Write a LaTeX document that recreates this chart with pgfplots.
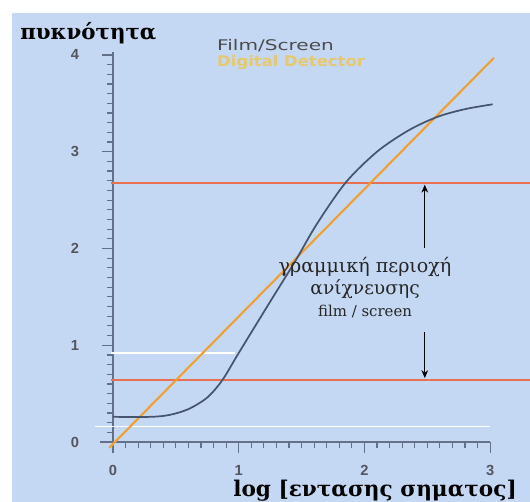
\documentclass[border=0pt]{standalone}
\usepackage{fontspec}
\setmainfont{Liberation Serif}
\newfontfamily\sansf{Liberation Sans}
\newfontfamily\djsans{DejaVu Sans}
\newfontfamily\djserif{DejaVu Serif}
\usepackage{pgfplots}
\pgfplotsset{compat=1.18}
\usetikzlibrary{arrows.meta}
\definecolor{bg}{RGB}{197,216,243}
\definecolor{hline}{RGB}{232,112,80}
\definecolor{diag}{RGB}{240,160,50}
\definecolor{film}{RGB}{70,85,110}
\definecolor{axc}{RGB}{100,112,135}
\definecolor{tickc}{RGB}{85,85,95}
\definecolor{legy}{RGB}{230,200,110}
\begin{document}
\begin{tikzpicture}
\begin{axis}[
  scale only axis, width=397.5pt, height=376.5pt,
  xmin=-0.899, xmax=3.317, ymin=-0.620, ymax=4.568,
  axis lines=middle, axis line style={draw=none},
  hide obscured x ticks=false, hide obscured y ticks=false,
  xtick={0,1,2,3}, ytick={0,1,2,3,4},
  tick align=outside,
  major tick length=8pt,
  tick style={draw=axc, line width=0.9pt},
  ticklabel style={font=\sansf\bfseries\fontsize{11}{12}\selectfont, text=tickc},
  /pgf/number format/assume math mode=true,
  yticklabel style={xshift=-14pt},
  xticklabel style={yshift=-6pt},
  axis background/.style={fill=bg},
  clip=false,
]
\fill[white] (axis cs:-0.899,4.434) rectangle (axis cs:3.317,4.568);
\fill[white] (axis cs:-0.899,-0.62) rectangle (axis cs:-0.803,4.568);
\draw[axc, line width=1pt] (axis cs:0,-0.08) -- (axis cs:0,4.03);
\draw[axc, line width=1pt] (axis cs:-0.1,0) -- (axis cs:3.0,0);
\pgfplotsinvokeforeach{0.1,0.2,...,2.95}{\draw[axc, line width=0.9pt] (axis cs:#1,0) -- (axis cs:#1,-0.06);}
\pgfplotsinvokeforeach{0.1,0.2,...,3.95}{\draw[axc, line width=0.9pt] (axis cs:0,#1) -- (axis cs:-0.05,#1);}
% white lines
\addplot[white, line width=1.2pt] coordinates {(-0.02,0.92) (0.97,0.92)};
\addplot[white, line width=1.4pt] coordinates {(-0.14,0.16) (3.0,0.16)};
% horizontal orange lines
\addplot[hline, line width=1.3pt] coordinates {(-0.02,2.68) (3.317,2.68)};
\addplot[hline, line width=1.3pt] coordinates {(-0.02,0.64) (3.317,0.64)};
% digital detector
\addplot[diag, line width=1.6pt] coordinates {(-0.03,-0.06) (3.03,3.97)};
% film/screen
\addplot[film, line width=1.3pt, smooth, tension=0.5] coordinates {
(0,0.26) (0.3,0.26) (0.45,0.28) (0.6,0.34) (0.75,0.46) (0.87,0.64) (1.0,0.92)
(1.25,1.45) (1.45,1.87) (1.62,2.25) (1.85,2.68) (2.1,3.0) (2.35,3.22)
(2.58,3.36) (2.8,3.44) (3.02,3.49)};
% arrows
\draw[black, line width=0.9pt, -{Stealth[length=6pt,width=5pt]}] (axis cs:2.48,2.01) -- (axis cs:2.48,2.66);
\draw[black, line width=0.9pt, -{Stealth[length=6pt,width=5pt]}] (axis cs:2.48,1.14) -- (axis cs:2.48,0.66);
% annotation
\node[align=center, text=black!85, inner sep=0pt, font=\djserif\fontsize{14}{16.5}\selectfont] at (axis cs:2.005,1.60)
  {{\fontsize{14.3}{16.5}\selectfont γραμμική περιοχή}\\ανίχνευσης\\{\fontsize{11.2}{16.5}\selectfont film / screen}};
% legend
\node[anchor=west, inner sep=0pt, text=black!70, font=\djsans\fontsize{11}{12}\selectfont] at (axis cs:0.827,4.10) {\scalebox{1.37}[1]{Film/Screen}};
\node[anchor=west, inner sep=0pt, text=legy, font=\djsans\bfseries\fontsize{11}{12}\selectfont] at (axis cs:0.827,3.92) {\scalebox{1.12}[1]{Digital Detector}};
% axis titles
\node[anchor=west, inner sep=0pt, font=\djserif\bfseries\fontsize{16}{17}\selectfont] at (axis cs:-0.74,4.22) {πυκνότητα};
\node[anchor=west, inner sep=0pt, font=\djserif\bfseries\fontsize{16.2}{18}\selectfont] at (axis cs:0.955,-0.50) {log [εντασης σηματος]};
\end{axis}
\pgfresetboundingbox
\useasboundingbox (current axis.south west) rectangle (current axis.north east);
\end{tikzpicture}
\end{document}
